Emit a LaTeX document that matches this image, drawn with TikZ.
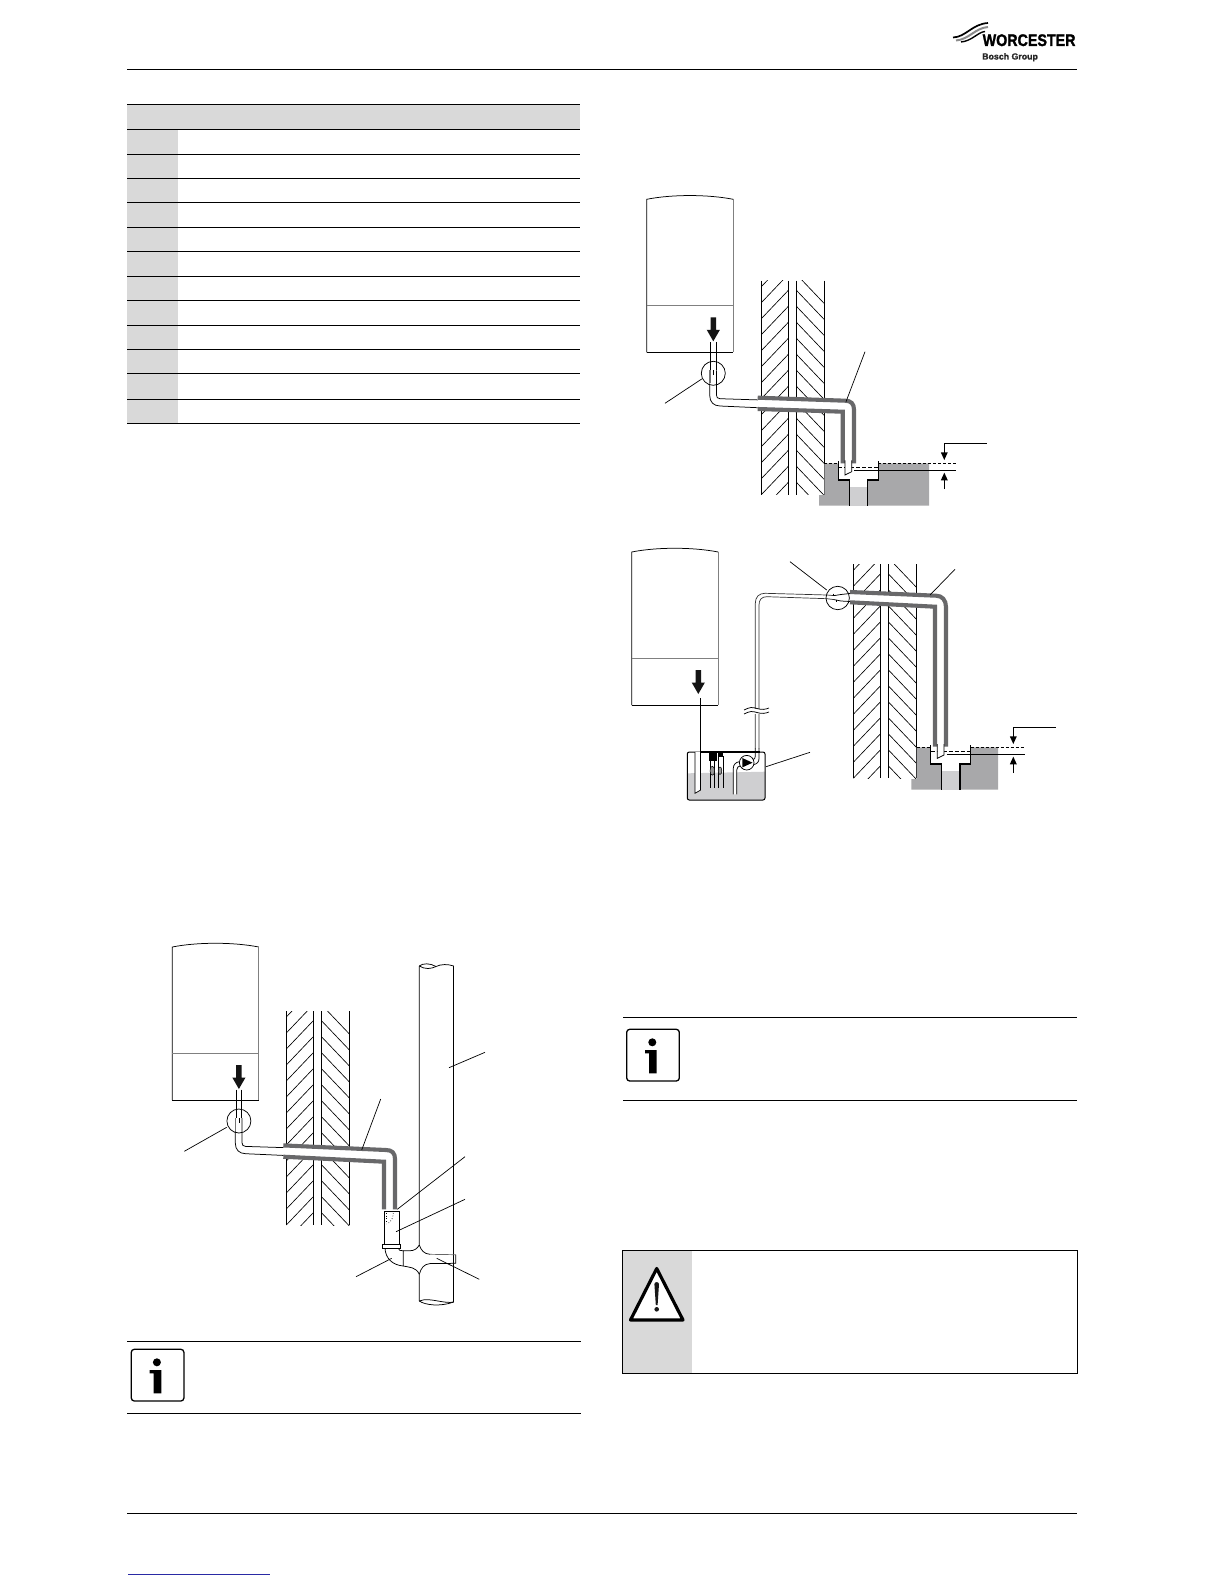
\documentclass[tikz,border=0pt]{standalone}
\usepackage{fontspec}
\usepackage{graphicx}
\setmainfont{Liberation Sans}
\newfontfamily\logofont[FakeBold=1.6]{Liberation Sans Bold}
\newfontfamily\logosmall[FakeBold=0.8]{Liberation Sans Bold}
\definecolor{tablegrey}{HTML}{D9D9D9}
\definecolor{insul}{HTML}{68686A}
\definecolor{ground}{HTML}{A8A8AA}
\definecolor{pale}{HTML}{CFCFD1}
\definecolor{unitgrey}{HTML}{808080}
\definecolor{linkblue}{HTML}{2A2AA5}
\tikzset{
  rule/.style={line width=1pt,black},
  thinline/.style={line width=0.75pt,black},
  hatchline/.style={line width=0.65pt,black},
  insstrip/.style={line width=4.1pt,insul,line join=miter},
  edgeline/.style={line width=1.25pt,black},
  leader/.style={line width=0.7pt,black},
  bigarrow/.style={fill=black!92,draw=none},
  smallhead/.style={fill=black,draw=none},
}
% wall: x1 and top y
\newcommand{\wallunit}[2]{%
  \begin{scope}[shift={(#1,#2)}]
    \begin{scope}
      \clip (0,0) rectangle (27,214);
      \foreach \k in {0,...,14} \draw[hatchline] (0,{6+16*\k}) -- ++(40,-42);
    \end{scope}
    \begin{scope}
      \clip (35,0) rectangle (63,214);
      \foreach \k in {0,...,14} \draw[hatchline] (35,{-6.5+16*\k}) -- ++(40,42);
    \end{scope}
    \foreach \xx in {0,27,35,63} \draw[thinline] (\xx,0) -- (\xx,214);
  \end{scope}}
% boiler casing in local coordinates (origin: lower left corner)
\newcommand{\boilerunit}{%
  \draw[thinline,fill=white] (0,0) -- (0,-153) .. controls (25,-158) and (61,-158) .. (86.5,-153);
  \draw[line width=0.8pt,unitgrey] (86.5,-153) -- (86.5,0);
  \draw[line width=0.7pt,unitgrey] (0,-47) -- (86.5,-47);
  \draw[line width=0.9pt,black] (0,0) -- (86.5,0);
  \fill[bigarrow] (63.8,-35) -- (69.4,-35) -- (69.4,-22.5) -- (73.2,-22.5) -- (66.6,-11) -- (60,-22.5) -- (63.8,-22.5) -- cycle;}
% condensate pipe leaving boiler with insulation through the wall
\newcommand{\pipeunit}[5]{%
  \fill[white] (111,45.4) -- ({#2-5},#3) -- (#2,{#3+5}) -- (#2,#5) -- (#1,#5) -- (#1,#4) -- (111,56.7) -- cycle;
  \draw[insstrip] (111,45.4) -- ({#2-9},#3) .. controls ({#2-3},#3) and (#2,{#3+3}) .. (#2,{#3+9}) -- (#2,#5);
  \draw[insstrip] (111,56.7) -- (#1,#4) -- (#1,#5);
  \fill[white] (64,-10.5) rectangle (69.3,18);
  \draw[thinline] (64,-10.5) -- (64,18);
  \draw[thinline] (69.3,-10.5) -- (69.3,18);
  \draw[line width=1.4pt,black!55] (63.3,18) -- (63.3,31);
  \draw[thinline] (63,31) -- (63,43) .. controls (63,50) and (67,53.5) .. (73.3,53.7) -- (111,55.4);
  \draw[thinline] (69.7,18) -- (69.7,42.7) .. controls (69.7,45) and (71,46.4) .. (73.3,46.4) -- (111,47.6);
  \draw[line width=1pt,black] (66.9,18) -- (66.9,23);
  \draw[thinline] (66.6,21) circle (12);}
% gully with water levels; #1 = width of right-hand block
\newcommand{\gullyunit}[1]{%
  \fill[ground] (0,0) -- (14,0) -- (14,16.7) -- (25,16.7) -- (25,42.4) -- (-5.3,42.4) -- (-5.3,31.7) -- (0,31.7) -- cycle;
  \fill[ground] (54,0) -- (#1,0) -- (#1,42.4) -- (43.4,42.4) -- (43.4,16.7) -- (54,16.7) -- cycle;
  \fill[pale] (25,23.7) rectangle (43.4,42.4);
  \draw[edgeline] (14,-2.3) -- (14,16.7) -- (25,16.7) -- (25,42.4);
  \draw[edgeline] (54,-2.3) -- (54,16.7) -- (43.4,16.7) -- (43.4,42.4);
  \draw[thinline,dashed,dash pattern=on 3pt off 2pt] (0,0) -- (14,0);
  \draw[thinline,dashed,dash pattern=on 3pt off 2pt] (54,0) -- ({#1+27},0);
  \draw[thinline,dashed,dash pattern=on 4pt off 2pt] (14,4.4) -- (54,4.4);
  \draw[thinline] (30,6.7) -- ({#1+27},6.7);
  \draw[thinline] ({#1+57.7},-20) -- ({#1+15.3},-20) -- ({#1+15.3},-8);
  \fill[smallhead] ({#1+15.3},-3.3) -- ({#1+11.8},-11) -- ({#1+18.8},-11) -- cycle;
  \draw[thinline] ({#1+15.3},25.7) -- ({#1+15.3},14);
  \fill[smallhead] ({#1+15.3},9.4) -- ({#1+11.8},17) -- ({#1+18.8},17) -- cycle;}
\newcommand{\infounit}{%
  \draw[line width=1.3pt,rounded corners=3pt,fill=white] (0,0) rectangle (52.6,51.7);
  \fill[black] (25.6,13) circle (4);
  \fill[black] (18.3,20.7) -- (30,20.7) -- (30,44) -- (22.4,44) -- (22.4,24) -- (18.3,24) -- cycle;}
\begin{document}
\begin{tikzpicture}[x=1pt,y=-1pt]
\useasboundingbox (0,0) rectangle (1224,1584);
\fill[white] (0,0) rectangle (1224,1584);
% page frame
\draw[rule] (127,69.5) -- (1077,69.5);
\draw[rule] (127,1513) -- (1077,1513);
\draw[line width=0.6pt,linkblue] (128.3,1574) -- (269.6,1574);
% logo
\draw[line width=1.7pt,black] (953,37.5) .. controls (966,37) and (972,24) .. (988,23);
\draw[line width=2pt,black!45] (956,40.5) .. controls (969,39.5) and (975,28) .. (988,27);
\draw[line width=1.4pt,black] (961,42) .. controls (972,41) and (978,32) .. (985,31.5);
\node[anchor=base west,inner sep=0pt,font=\logofont\fontsize{16.8}{18}\selectfont] (logoname) at (982.5,46) {\scalebox{0.85}[1]{WORCESTER}};
\node[anchor=base west,inner sep=0pt,font=\logosmall\fontsize{8.8}{10}\selectfont,text=black!85] (logogroup) at (982,59.5) {Bosch Group};
% table
\fill[tablegrey] (127,105) rectangle (580,129.3);
\fill[tablegrey] (127,129.3) rectangle (177.7,423);
\foreach \yy in {105,129.3,154.5,178.7,202,227,251.5,276.7,300,325,349.4,373.7,399,423}
  \draw[rule] (127,\yy) -- (580,\yy);
%
% ---------- figure top right ----------
\wallunit{761.3}{280.7}
\begin{scope}[shift={(646.7,352.3)}]
  \pipeunit{196}{207.3}{48.4}{59.4}{111}
  \boilerunit
\end{scope}
\begin{scope}[shift={(824.3,463.3)}]
  \gullyunit{104.7}
\end{scope}
\begin{scope}[shift={(646.7,352.3)}]
  \fill[white] (198.3,111) -- (198.3,122.7) -- (205,119.4) -- (205,111) -- cycle;
  \draw[thinline] (198.3,108) -- (198.3,122.7) -- (205,119.4) -- (205,108);
\end{scope}
\coordinate (a1) at (701.7,379);
\coordinate (a2) at (665,403.3);
\draw[leader] (a1) -- (a2);
\coordinate (b1) at (846,401.7);
\coordinate (b2) at (865,351.7);
\draw[leader] (b1) -- (b2);
%
% ---------- figure middle right ----------
\wallunit{853.3}{564.3}
\fill[white] (850,592) -- (935,595.7) -- (935,606.7) -- (850,602.3) -- cycle;
\draw[insstrip] (850,592) -- (936,595.7) .. controls (942,595.7) and (946,600) .. (946,607) -- (946,746.7);
\draw[insstrip] (850,602.3) -- (935,606.7) -- (935,746.7);
\begin{scope}[shift={(916.7,747.3)}]
  \gullyunit{81.3}
\end{scope}
\fill[white] (937.3,744) -- (937.3,758.3) -- (944,755) -- (944,744) -- cycle;
\draw[thinline] (937.3,744) -- (937.3,758.3) -- (944,755) -- (944,744);
% pipe over to the tank
\draw[line width=0.7pt,black!80] (755.3,748.3) -- (755.3,603.3) .. controls (755.3,597) and (759,593.3) .. (765,593.3) -- (827,595) -- (834,595.6);
\draw[line width=0.7pt,black!80] (759,748.3) -- (759,605) .. controls (759,600) and (761.5,596.7) .. (766.7,596.7) -- (827,598.7) -- (834,599.6);
\draw[thinline] (850,593.5) -- (841,594.5) -- (834,595.6);
\draw[thinline] (850,601.5) -- (841,601) -- (834,599.6);
\draw[line width=1pt] (833,593.5) -- (833,596);
\draw[line width=1pt] (836,599.5) -- (836,602);
\draw[thinline] (837.7,598) circle (11.7);
\coordinate (c1) at (826.7,590);
\coordinate (c2) at (790,561.7);
\draw[leader] (c1) -- (c2);
\coordinate (d1) at (930,595);
\coordinate (d2) at (955,569.3);
\draw[leader] (d1) -- (d2);
% pipe break
\fill[white] (744,708.5) rectangle (769,713.5);
\draw[thinline] (744,710) .. controls (750,707) and (752,707) .. (757,708.5) .. controls (762,710) and (765,709.5) .. (769,708);
\draw[thinline] (744,714) .. controls (750,711) and (752,711) .. (757,712.5) .. controls (762,714) and (765,713.5) .. (769,712);
% boiler
\begin{scope}[shift={(631.7,705)}]
  \boilerunit
\end{scope}
% tank
\fill[pale] (688,773.3) -- (765,771.7) -- (765,798) -- (763,800) -- (689.5,800) -- (687.3,798) -- cycle;
\draw[line width=1pt,rounded corners=2pt] (701,752) -- (687.3,752) -- (687.3,800) -- (765,800) -- (765,752) -- (760,752);
\draw[line width=1.4pt] (700.7,752) -- (760,752);
\fill[white] (695,752) -- (695,793.3) -- (700.7,790) -- (700.7,752) -- cycle;
\draw[thinline] (695,752) -- (695,793.3) -- (700.7,790);
\draw[line width=1pt] (700.7,698) -- (700.7,790);
\fill[black] (709.3,752) rectangle (716.7,760.7);
\fill[black] (717.7,752) rectangle (723.3,756.7);
\foreach \xx in {710,714.3,718.3,723.3} \draw[thinline] (\xx,756) -- (\xx,788.3);
\draw[line width=0.5pt,fill=black!40] (712.3,770.7) ellipse (2.3 and 4.5);
\draw[line width=0.5pt,fill=black!40] (720,770.7) ellipse (1.8 and 3.8);
\fill[white] (733.3,794.3) -- (733.3,768.3) -- (739,761.7) -- (741,766) -- (736.7,770) -- (736.7,794.3) -- cycle;
\draw[thinline] (733.3,794.3) -- (733.3,768.3) .. controls (733.3,764.5) and (736,762) .. (739.4,761.7);
\draw[thinline] (736.7,794.3) -- (736.7,770) .. controls (736.7,767.5) and (738.5,766) .. (740.5,765.8);
\draw[thinline] (755.3,748) -- (755.3,756) .. controls (755.3,758) and (754.5,759) .. (753.4,759.5);
\draw[thinline] (759,748) -- (759,758.5) .. controls (759,762) and (757,764) .. (753.8,764.5);
\draw[thinline,fill=white] (746.7,762.7) circle (7.3);
\fill[black] (742.3,758) -- (742.3,767.4) -- (752.5,762.7) -- cycle;
\coordinate (e1) at (766,766.7);
\coordinate (e2) at (810,752.3);
\draw[leader] (e1) -- (e2);
%
% ---------- figure lower left ----------
\wallunit{286.3}{1011}
\begin{scope}[shift={(172.3,1100)}]
  \pipeunit{211.7}{222.7}{50}{61.7}{109.3}
  \boilerunit
\end{scope}
% stack
\draw[thinline] (419.3,966) -- (419.3,1245) .. controls (417,1249) and (414,1250.7) .. (410,1250.7) -- (403.3,1250.7) -- (403.3,1266);
\draw[thinline] (403.3,1266) .. controls (410,1267.5) and (416,1267) .. (419.3,1274.3) -- (419.3,1301);
\draw[thinline] (453.7,966) -- (453.7,1302);
\draw[thinline] (419.3,1245) .. controls (421,1250) and (424,1254) .. (430,1254.3);
\draw[line width=0.7pt,black!60] (430,1254.3) -- (455.7,1254.7);
\draw[thinline] (419.3,1274.3) .. controls (421,1268) and (424,1264) .. (430,1263.6) -- (455.7,1263.3) -- (455.7,1254.7);
\draw[thinline] (419.3,966) .. controls (425,969.5) and (431,969) .. (436,966.5) .. controls (441,964) and (448,964) .. (453.7,966);
\draw[thinline] (419.3,966) .. controls (423,963) and (430,963) .. (436,966.5);
\draw[thinline] (419.3,1301) .. controls (425,1298.5) and (432,1300) .. (438,1301) .. controls (444,1302) and (449,1303) .. (453.7,1302);
\draw[thinline] (419.3,1301) .. controls (425,1305) and (440,1307) .. (453.7,1302);
% trap
\fill[white] (384.3,1211) rectangle (399,1244.3);
\draw[thinline] (384.3,1244.3) -- (384.3,1211) -- (399,1211) -- (399,1244.3);
\draw[line width=0.7pt,dotted] (386,1213) -- (386,1223);
\draw[line width=0.7pt,dotted] (393.3,1213) .. controls (393,1219) and (391,1222) .. (386.7,1224);
\draw[line width=1pt,fill=white] (382.7,1244.3) rectangle (400.7,1248.3);
\draw[thinline] (385,1248.3) .. controls (385.5,1258) and (392,1265) .. (403.3,1266);
\draw[thinline] (398.3,1248.3) .. controls (398.5,1250) and (400,1250.7) .. (403.3,1250.7);
\coordinate (f1) at (226.7,1127.3);
\coordinate (f2) at (184.3,1151.3);
\draw[leader] (f1) -- (f2);
\coordinate (g1) at (361.7,1150);
\coordinate (g2) at (380.7,1099);
\draw[leader] (g1) -- (g2);
\coordinate (h1) at (449,1067.7);
\coordinate (h2) at (485,1052.3);
\draw[leader] (h1) -- (h2);
\coordinate (i1) at (397.3,1209.3);
\coordinate (i2) at (465,1156.7);
\draw[leader] (i1) -- (i2);
\coordinate (j1) at (396,1231.7);
\coordinate (j2) at (465,1199.3);
\draw[leader] (j1) -- (j2);
\coordinate (k1) at (391.7,1258.3);
\coordinate (k2) at (356,1276.7);
\draw[leader] (k1) -- (k2);
\coordinate (l1) at (436.7,1258.3);
\coordinate (l2) at (479.3,1279.3);
\draw[leader] (l1) -- (l2);
%
% ---------- notice boxes ----------
\draw[rule] (127,1341) -- (581,1341);
\draw[rule] (127,1413) -- (581,1413);
\begin{scope}[shift={(131.3,1349.3)}]\infounit\end{scope}
\draw[rule] (623,1017.3) -- (1077,1017.3);
\draw[rule] (623,1100) -- (1077,1100);
\begin{scope}[shift={(626.7,1029.3)}]\infounit\end{scope}
% warning
\fill[tablegrey] (622.3,1250.3) rectangle (692,1373.3);
\draw[line width=1pt] (622.3,1250.3) rectangle (1077,1373.3);
\draw[line width=3.2pt,line join=round,fill=white] (656.7,1268.5) -- (683,1320) -- (630.5,1320) -- cycle;
\fill[black!90] (654.4,1284) .. controls (654.4,1281.5) and (659,1281.5) .. (659,1284) -- (657.6,1305) -- (655.8,1305) -- cycle;
\fill[black!90] (656.7,1309.3) circle (2.3);
\end{tikzpicture}
\end{document}
